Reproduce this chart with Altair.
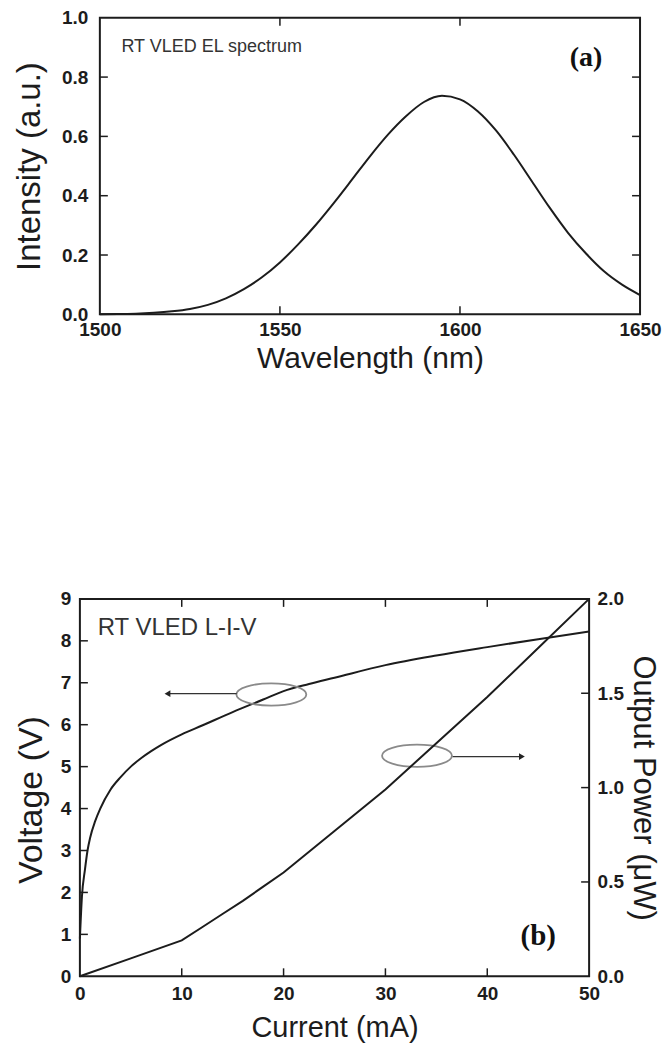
import altair as alt
import pandas as pd

# ---------------- data ----------------
wavelength = [1500, 1505, 1510, 1515, 1520, 1525, 1530, 1535, 1540, 1545,
              1550, 1555, 1560, 1565, 1570, 1575, 1580, 1585, 1590, 1595,
              1600, 1605, 1610, 1615, 1620, 1625, 1630, 1635, 1640, 1645, 1650]
intensity = [0.000, 0.001, 0.002, 0.005, 0.010, 0.018, 0.032, 0.054, 0.085, 0.125,
             0.175, 0.235, 0.302, 0.376, 0.454, 0.533, 0.606, 0.668, 0.716, 0.737,
             0.725, 0.684, 0.620, 0.538, 0.448, 0.358, 0.275, 0.205, 0.145, 0.100, 0.065]

current_v = [0, 0.2, 0.5, 0.75, 1, 1.5, 2, 3, 4, 5, 6, 7, 8, 10, 12, 15, 18, 20,
             22.5, 25, 30, 35, 40, 45, 50]
voltage = [0.9, 1.9, 2.55, 3.0, 3.3, 3.7, 4.0, 4.45, 4.75, 5.0, 5.2, 5.37, 5.52,
           5.77, 5.98, 6.3, 6.6, 6.8, 6.97, 7.12, 7.42, 7.65, 7.85, 8.04, 8.22]

current_p = [0, 5, 10, 12, 14, 16, 18, 20, 25, 30, 35, 40, 45, 50]
power = [0.0, 0.095, 0.19, 0.26, 0.33, 0.40, 0.475, 0.55, 0.77, 0.99, 1.235,
         1.48, 1.74, 2.0]

a_xticks = [1500, 1550, 1600, 1650]
a_yticks = [0.0, 0.2, 0.4, 0.6, 0.8, 1.0]
b_xticks = [0, 10, 20, 30, 40, 50]
b_vticks = [0, 1, 2, 3, 4, 5, 6, 7, 8, 9]
b_pticks = [0.0, 0.5, 1.0, 1.5, 2.0]

# annotations (panel b, in data units)
ell_x = [18.8, 33.1]
ell_y = [6.72, 5.26]
arrow_x1 = [15.4, 36.6]
arrow_x2 = [8.6, 43.4]
arrow_y = [6.74, 5.24]
head_x = [8.6, 43.4]
head_shape = ["triangle-left", "triangle-right"]

FONT = "Liberation Sans"
INK = "#1c1c1c"
TL = 8  # inward tick length

PAD_A = 20                 # panel (a) plot starts this far right of panel (b)
W_A, H_A = 541, 297        # plot area of panel (a)
W_A_TOT = W_A + PAD_A
W_B, H_B = 510, 378


def make_axis(title, values, fmt, orient, label_pad, title_pad, title_size, **kw):
    return alt.Axis(
        orient=orient, title=title, values=values, format=fmt, ticks=False, domain=False,
        grid=False, labelFlush=False, labelOverlap=False, labelPadding=label_pad,
        labelFont=FONT, labelFontSize=19, labelFontWeight="bold", labelColor=INK,
        titleFont=FONT, titleFontSize=title_size, titleFontWeight="normal", titleColor=INK,
        titlePadding=title_pad, **kw)


# ---------------- panel (a) ----------------
x_lo = a_xticks[0] - PAD_A * (a_xticks[-1] - a_xticks[0]) / W_A
xs_a = alt.Scale(domain=[x_lo, a_xticks[-1]], nice=False, zero=False)
ys_a = alt.Scale(domain=[0, 1], nice=False)
ax_xa = make_axis("Wavelength (nm)", a_xticks, "d", "bottom", 6, 4, 30,
                  titleX=PAD_A + W_A / 2)
ax_ya = make_axis("Intensity (a.u.)", a_yticks, ".1f", "left", 12, 15, 33, offset=-PAD_A)

df_a = pd.DataFrame({"wl": wavelength, "I": intensity})

line_a = alt.Chart(df_a).mark_line(color=INK, strokeWidth=2, interpolate="monotone").encode(
    x=alt.X("wl:Q", scale=xs_a, axis=ax_xa),
    y=alt.Y("I:Q", scale=ys_a, axis=ax_ya),
)

frame_a = alt.Chart(pd.DataFrame({"x": [a_xticks[0]], "x2": [a_xticks[-1]],
                                  "y": [a_yticks[0]], "y2": [a_yticks[-1]]})).mark_rect(
    fillOpacity=0, stroke=INK, strokeWidth=2).encode(
    x=alt.X("x:Q", scale=xs_a, axis=ax_xa), x2="x2:Q",
    y=alt.Y("y:Q", scale=ys_a, axis=ax_ya), y2="y2:Q")

df_ax = pd.DataFrame({"t": a_xticks[1:-1]})
df_ay = pd.DataFrame({"t": a_yticks[1:-1]})
bt_a = alt.Chart(df_ax).mark_rule(color=INK, strokeWidth=1.5).encode(
    x=alt.X("t:Q", scale=xs_a, axis=ax_xa), y=alt.value(H_A), y2=alt.value(H_A - TL))
tt_a = alt.Chart(df_ax).mark_rule(color=INK, strokeWidth=1.5).encode(
    x=alt.X("t:Q", scale=xs_a, axis=ax_xa), y=alt.value(0), y2=alt.value(TL))
lt_a = alt.Chart(df_ay).mark_rule(color=INK, strokeWidth=1.5).encode(
    y=alt.Y("t:Q", scale=ys_a, axis=ax_ya), x=alt.value(PAD_A), x2=alt.value(PAD_A + TL))
rt_a = alt.Chart(df_ay).mark_rule(color=INK, strokeWidth=1.5).encode(
    y=alt.Y("t:Q", scale=ys_a, axis=ax_ya), x=alt.value(W_A_TOT), x2=alt.value(W_A_TOT - TL))

txt_a = alt.Chart(pd.DataFrame({"x": [1506], "y": [0.902], "s": ["RT VLED EL spectrum"]})).mark_text(
    align="left", baseline="middle", font=FONT, fontSize=18, color="#333").encode(
    x=alt.X("x:Q", scale=xs_a, axis=ax_xa), y=alt.Y("y:Q", scale=ys_a, axis=ax_ya), text="s:N")
lab_a = alt.Chart(pd.DataFrame({"x": [1635], "y": [0.866], "s": ["(a)"]})).mark_text(
    align="center", baseline="middle", font="Liberation Serif", fontSize=28,
    fontWeight="bold", color="#111").encode(
    x=alt.X("x:Q", scale=xs_a, axis=ax_xa), y=alt.Y("y:Q", scale=ys_a, axis=ax_ya), text="s:N")

panel_a = alt.layer(frame_a, line_a, bt_a, tt_a, lt_a, rt_a, txt_a, lab_a).properties(
    width=W_A_TOT, height=H_A)

# ---------------- panel (b) ----------------
xs_b = alt.Scale(domain=[0, 50], nice=False)
ys_v = alt.Scale(domain=[0, 9], nice=False)
ys_p = alt.Scale(domain=[0, 2], nice=False)
ax_xb = make_axis("Current (mA)", b_xticks, "d", "bottom", 8, 10, 29)
ax_v = make_axis("Voltage (V)", b_vticks, "d", "left", 9, 12, 34, titleY=H_B / 2 + 12)
ax_p = make_axis("Output Power (μW)", b_pticks, ".1f", "right", 8, 3, 31)

df_v = pd.DataFrame({"I": current_v, "V": voltage})
df_p = pd.DataFrame({"I": current_p, "P": power})

frame_b = alt.Chart(pd.DataFrame({"x": [b_xticks[0]], "x2": [b_xticks[-1]],
                                  "y": [b_vticks[0]], "y2": [b_vticks[-1]]})).mark_rect(
    fillOpacity=0, stroke=INK, strokeWidth=2).encode(
    x=alt.X("x:Q", scale=xs_b, axis=ax_xb), x2="x2:Q",
    y=alt.Y("y:Q", scale=ys_v, axis=ax_v), y2="y2:Q")

line_v = alt.Chart(df_v).mark_line(color=INK, strokeWidth=2, interpolate="monotone").encode(
    x=alt.X("I:Q", scale=xs_b, axis=ax_xb),
    y=alt.Y("V:Q", scale=ys_v, axis=ax_v),
)

df_bx = pd.DataFrame({"t": b_xticks[1:-1]})
df_bv = pd.DataFrame({"t": b_vticks[1:-1]})
df_bp = pd.DataFrame({"t": b_pticks[1:-1]})
bt_b = alt.Chart(df_bx).mark_rule(color=INK, strokeWidth=1.5).encode(
    x=alt.X("t:Q", scale=xs_b, axis=ax_xb), y=alt.value(H_B), y2=alt.value(H_B - TL))
tt_b = alt.Chart(df_bx).mark_rule(color=INK, strokeWidth=1.5).encode(
    x=alt.X("t:Q", scale=xs_b, axis=ax_xb), y=alt.value(0), y2=alt.value(TL))
lt_b = alt.Chart(df_bv).mark_rule(color=INK, strokeWidth=1.5).encode(
    y=alt.Y("t:Q", scale=ys_v, axis=ax_v), x=alt.value(0), x2=alt.value(TL))

df_ell = pd.DataFrame({"x": ell_x, "y": ell_y})
ell = alt.Chart(df_ell).mark_point(
    shape="M-1,0A1,0.32 0 1,1 1,0A1,0.32 0 1,1 -1,0Z", size=4900, filled=False,
    stroke="#8a8a8a", strokeWidth=1.8, opacity=1).encode(
    x=alt.X("x:Q", scale=xs_b, axis=ax_xb), y=alt.Y("y:Q", scale=ys_v, axis=ax_v))

df_arr = pd.DataFrame({"x1": arrow_x1, "x2": arrow_x2, "y": arrow_y,
                       "hx": head_x, "shape": head_shape})
arr_line = alt.Chart(df_arr).mark_rule(color="#333", strokeWidth=1.2).encode(
    x=alt.X("x1:Q", scale=xs_b, axis=ax_xb), x2="x2:Q",
    y=alt.Y("y:Q", scale=ys_v, axis=ax_v))
arr_head = alt.Chart(df_arr).mark_point(filled=True, color="#222", size=45, opacity=1).encode(
    x=alt.X("hx:Q", scale=xs_b, axis=ax_xb), y=alt.Y("y:Q", scale=ys_v, axis=ax_v),
    shape=alt.Shape("shape:N", scale=None, legend=None))

txt_b = alt.Chart(pd.DataFrame({"x": [1.75], "y": [8.3], "s": ["RT VLED L-I-V"]})).mark_text(
    align="left", baseline="middle", font=FONT, fontSize=24, color="#333").encode(
    x=alt.X("x:Q", scale=xs_b, axis=ax_xb), y=alt.Y("y:Q", scale=ys_v, axis=ax_v), text="s:N")
lab_b = alt.Chart(pd.DataFrame({"x": [45.0], "y": [0.97], "s": ["(b)"]})).mark_text(
    align="center", baseline="middle", font="Liberation Serif", fontSize=29,
    fontWeight="bold", color="#111").encode(
    x=alt.X("x:Q", scale=xs_b, axis=ax_xb), y=alt.Y("y:Q", scale=ys_v, axis=ax_v), text="s:N")

left_b = alt.layer(frame_b, line_v, bt_b, tt_b, lt_b, ell, arr_line, arr_head, txt_b, lab_b)

line_p = alt.Chart(df_p).mark_line(color=INK, strokeWidth=2).encode(
    x=alt.X("I:Q", scale=xs_b, axis=ax_xb),
    y=alt.Y("P:Q", scale=ys_p, axis=ax_p),
)
rt_b = alt.Chart(df_bp).mark_rule(color=INK, strokeWidth=1.5).encode(
    x=alt.value(W_B), x2=alt.value(W_B - TL),
    y=alt.Y("t:Q", scale=ys_p, axis=ax_p))

right_b = alt.layer(line_p, rt_b)

panel_b = alt.layer(left_b, right_b).resolve_scale(y="independent").properties(
    width=W_B, height=H_B)

chart = alt.vconcat(panel_a, panel_b, spacing=217).properties(
    padding={"left": 5, "top": 0, "right": 0, "bottom": 0}, background="white"
).configure_view(strokeWidth=0)

chart.save("out.html", embed_options={"renderer": "svg", "actions": False})
